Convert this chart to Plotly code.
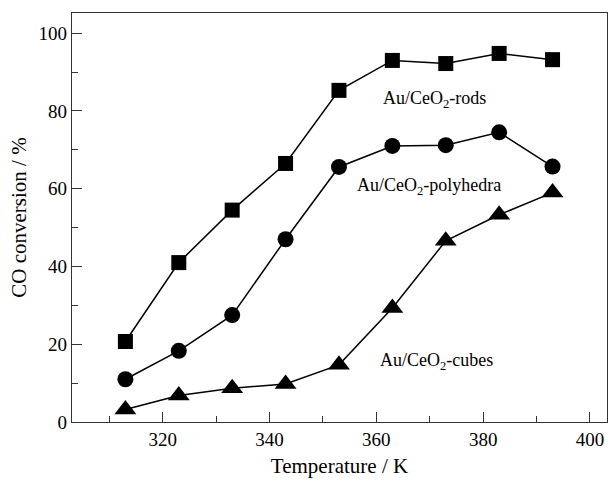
import plotly.graph_objects as go

temps = [313, 323, 333, 343, 353, 363, 373, 383, 393]
rods = [20.7, 41.0, 54.5, 66.5, 85.3, 93.0, 92.2, 94.8, 93.2]
polyhedra = [11.0, 18.3, 27.5, 47.0, 65.6, 71.0, 71.2, 74.5, 65.7]
cubes = [3.2, 6.8, 8.7, 9.8, 14.7, 29.3, 46.6, 53.3, 59.0]

series = [
    ("Au/CeO<sub>2</sub>-rods", rods, "square", 15),
    ("Au/CeO<sub>2</sub>-polyhedra", polyhedra, "circle", 16),
    ("Au/CeO<sub>2</sub>-cubes", cubes, "triangle-up", 19),
]
labels = [
    ("Au/CeO<sub>2</sub>-rods", 370.8, 83.0),
    ("Au/CeO<sub>2</sub>-polyhedra", 369.9, 60.5),
    ("Au/CeO<sub>2</sub>-cubes", 371.2, 15.6),
]

FONT = "Liberation Serif"

fig = go.Figure()
for name, ys, sym, sz in series:
    fig.add_trace(go.Scatter(
        x=temps, y=ys, mode="lines+markers", name=name,
        line=dict(color="black", width=1.5),
        marker=dict(symbol=sym, size=sz, color="black"),
        showlegend=False,
    ))

for txt, x, y in labels:
    fig.add_annotation(x=x, y=y, text=txt, showarrow=False,
                       font=dict(family=FONT, size=18, color="black"))

axis_common = dict(
    showline=True, linecolor="#333", linewidth=1.3, mirror=True,
    showgrid=False, zeroline=False, ticks="inside", ticklen=10,
    tickwidth=1.3, tickcolor="#333", automargin=False,
    tickfont=dict(family=FONT, size=19, color="black"),
)

fig.update_xaxes(
    range=[303, 403.2], tick0=0, dtick=20,
    minor=dict(ticks="inside", ticklen=6, tickwidth=1.3, tickcolor="#333", dtick=10, tick0=310),
    title=dict(text="Temperature / K", font=dict(family=FONT, size=21, color="black"), standoff=9),
    **axis_common,
)
fig.update_yaxes(
    range=[0, 105.2], tick0=0, dtick=20,
    minor=dict(ticks="inside", ticklen=6, tickwidth=1.3, tickcolor="#333", dtick=10, tick0=10),
    title=dict(text="CO conversion / %", font=dict(family=FONT, size=21, color="black"), standoff=6),
    **axis_common,
)

fig.update_layout(
    width=608, height=480,
    margin=dict(l=72, r=1, t=13, b=58),
    plot_bgcolor="white", paper_bgcolor="white",
)

fig.write_html("out.html", config={"displayModeBar": False},
               post_script="document.body.style.margin='0';")
